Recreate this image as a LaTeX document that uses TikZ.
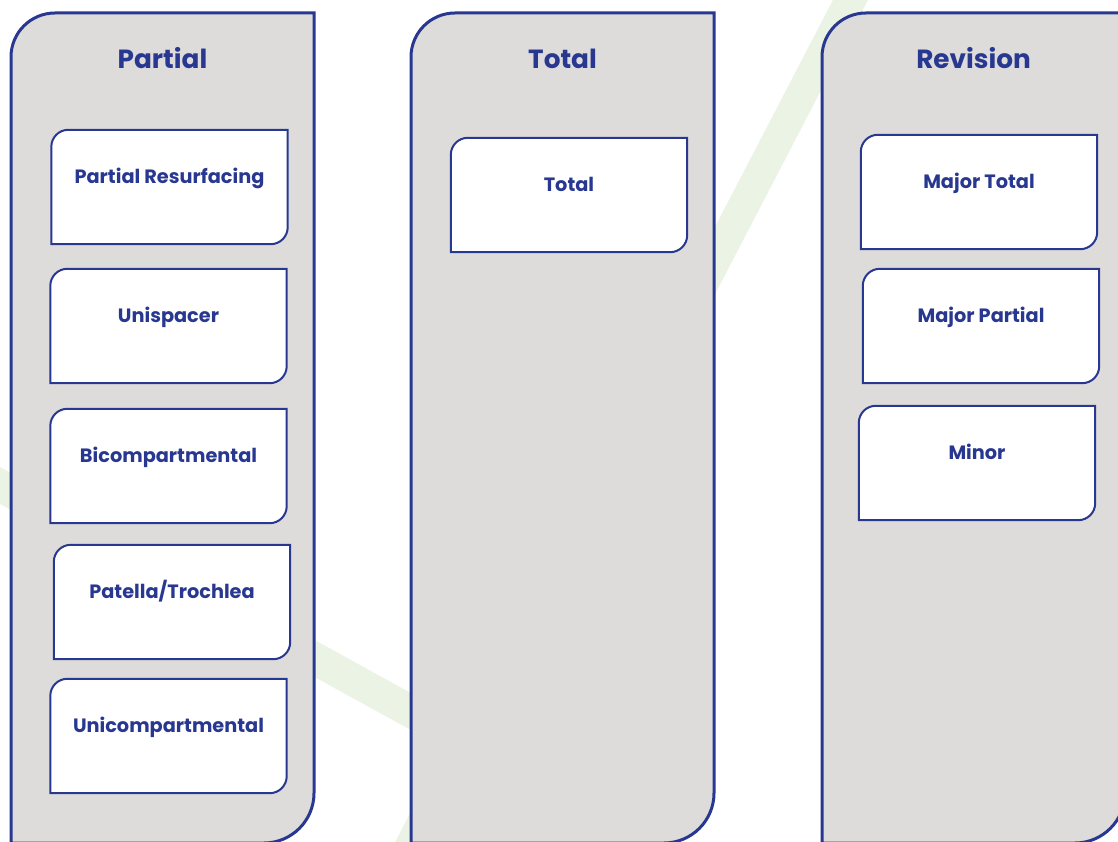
\documentclass[tikz,border=0pt]{standalone}
\usepackage{fontspec}
\setmainfont{Poppins}
\usetikzlibrary{calc}
\definecolor{navy}{HTML}{283891}
\definecolor{colgray}{HTML}{DDDCDB}
\definecolor{bandgreen}{HTML}{EBF3E4}
\tikzset{
  colline/.style={draw=navy, line width=3pt, fill=colgray},
  boxline/.style={draw=navy, line width=2pt, fill=white},
  inbox/.style={minimum width=236pt, minimum height=114pt, inner sep=0pt},
  itext/.style={text=navy, font=\fontsize{19.3}{22}\selectfont\bfseries, inner sep=0pt, anchor=base},
  ttext/.style={text=navy, font=\fontsize{26.3}{30}\selectfont\bfseries, inner sep=0pt, anchor=base},
  band/.style={fill=bandgreen, draw=none}
}
% #1 name, #2 centre x (px), #3 top y (px), #4 text
\newcommand\ibox[4]{%
  \node[inbox] (#1) at (#2, {841-#3-57}) {};
  \draw[boxline] (#1.south west) -- ([yshift=-17pt]#1.north west)
     arc[start angle=180, end angle=90, radius=17pt] -- (#1.north east)
     -- ([yshift=17pt]#1.south east)
     arc[start angle=0, end angle=-90, radius=17pt] -- cycle;
  \node[itext] (#1t) at ([yshift=-54pt]#1.north) {#4};
}
% #1 name, #2 left x, #3 right x, #4 title
\newcommand\column[4]{%
  \coordinate (#1tl) at (#2, 828);
  \coordinate (#1br) at (#3, -2);
  \draw[colline] (#1tl |- #1br) -- ([yshift=-44pt]#1tl)
     arc[start angle=180, end angle=90, radius=44pt] -- (#1tl -| #1br)
     -- ([yshift=50pt]#1br)
     arc[start angle=0, end angle=-90, radius=50pt] -- cycle;
  \node[ttext] (#1title) at ({(#2+#3)/2}, 772) {#4};
}
\begin{document}
\begin{tikzpicture}[x=1pt, y=1pt]
\useasboundingbox (0,0) rectangle (1118,841);
\clip (0,0) rectangle (1118,841);
\fill[white] (0,0) rectangle (1118,841);
% background check-mark bands
\path[band] (-10,379.5) -- (500,99) -- (500,62) -- (-10,342.5) -- cycle;
\path[band] (838.2,851) -- (873.2,851) -- (420.8,-19) -- (385.8,-19) -- cycle;
% columns
\column{pa}{11}{314}{Partial}
\column{to}{411}{714}{Total}
\column{re}{822}{1125}{Revision}
% boxes
\ibox{b1}{169.5}{130}{Partial Resurfacing}
\ibox{b2}{168.5}{269}{Unispacer}
\ibox{b3}{168.5}{409}{Bicompartmental}
\ibox{b4}{172}{545}{Patella/Trochlea}
\ibox{b5}{168.5}{679}{Unicompartmental}
\ibox{b6}{569}{138}{Total}
\ibox{b7}{979}{135}{Major Total}
\ibox{b8}{981}{269}{Major Partial}
\ibox{b9}{977}{406}{Minor}
\end{tikzpicture}
\end{document}
